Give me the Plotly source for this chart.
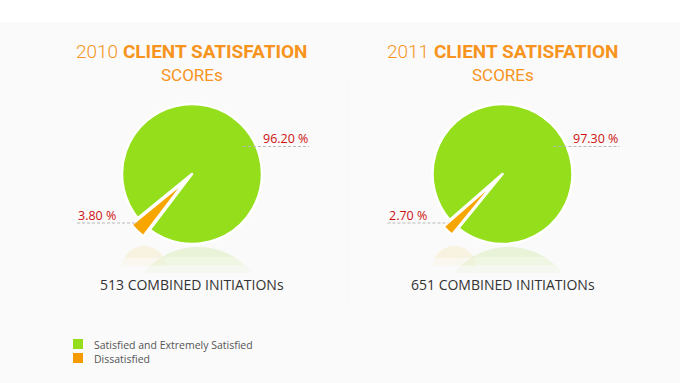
import math
import plotly.graph_objects as go

# ---- data ----
years = ["2010", "2011"]
labels = ["Satisfied and Extremely Satisfied", "Dissatisfied"]
satisfied = [96.2, 97.3]
dissatisfied = [3.8, 2.7]
initiations = [513, 651]

GREEN = "#95de1c"
ORANGE = "#f7a600"
LEG_ORANGE = "#f59a00"
TITLE_COLOR = "#f7941d"
LABEL_RED = "#cc1111"

W, H = 680, 383
centers_x = [192, 502.5]
center_y = 174
radius = 70
pull = 0.13
half = radius * (1 + pull)

fig = go.Figure()


def cap_path(cx, top, r, h):
    # circular cap of a mirrored circle (reflection), as polyline
    cyc = top + r
    pts = []
    a0 = math.acos((r - h) / r)
    n = 30
    for k in range(n + 1):
        a = -a0 + 2 * a0 * k / n
        x = cx + r * math.sin(a)
        y = cyc - r * math.cos(a)
        pts.append((x / W, 1 - y / H))
    d = "M " + " L ".join(f"{x:.5f},{y:.5f}" for x, y in pts) + " Z"
    return d


for i, yr in enumerate(years):
    cx = centers_x[i]
    cy_up = H - center_y
    rot = 224 + dissatisfied[i] * 3.6 / 2
    fig.add_trace(go.Pie(
        labels=labels,
        values=[satisfied[i], dissatisfied[i]],
        sort=False,
        direction="clockwise",
        rotation=rot,
        pull=[0, pull],
        textinfo="none",
        hoverinfo="label+percent",
        marker=dict(colors=[GREEN, ORANGE], line=dict(color="#ffffff", width=2.5)),
        domain=dict(x=[(cx - half) / W, (cx + half) / W],
                    y=[(cy_up - half) / H, (cy_up + half) / H]),
        showlegend=False,
    ))

    # faint reflection below the pie
    for h, op in [(26, 0.05), (18, 0.06), (10, 0.08)]:
        fig.add_shape(type="path", xref="paper", yref="paper",
                      path=cap_path(cx + 6, 247, radius, h),
                      fillcolor="#9fdc3a", opacity=op, line=dict(width=0), layer="below")
    for h, op in [(20, 0.06), (12, 0.08)]:
        fig.add_shape(type="path", xref="paper", yref="paper",
                      path=cap_path(cx - 48, 246, 22, h),
                      fillcolor="#f5c542", opacity=op, line=dict(width=0), layer="below")

    # titles
    fig.add_annotation(
        x=cx / W, y=1 - 51 / H, xref="paper", yref="paper",
        text=f"<span style='font-weight:300'>{yr}</span> <b>CLIENT SATISFATION</b>",
        showarrow=False, xanchor="center", yanchor="middle",
        font=dict(family="Roboto", size=19, color=TITLE_COLOR),
    )
    fig.add_annotation(
        x=cx / W, y=1 - 75 / H, xref="paper", yref="paper",
        text="SCOREs",
        showarrow=False, xanchor="center", yanchor="middle",
        font=dict(family="Roboto", size=17, color=TITLE_COLOR),
    )
    # combined initiations
    fig.add_annotation(
        x=cx / W, y=1 - 284 / H, xref="paper", yref="paper",
        text=f"{initiations[i]} COMBINED INITIATIONs",
        showarrow=False, xanchor="center", yanchor="middle",
        font=dict(family="Open Sans", size=14, color="#333333"),
    )
    # value labels with dashed leaders
    off = cx - centers_x[0]
    fig.add_annotation(
        x=(285 + off) / W, y=1 - 139 / H, xref="paper", yref="paper",
        text=f"{satisfied[i]:.2f} %", showarrow=False, xanchor="center", yanchor="middle",
        font=dict(family="Open Sans", size=12.5, color=LABEL_RED),
    )
    fig.add_shape(type="line", xref="paper", yref="paper",
                  x0=(243 + off) / W, x1=(309 + off) / W, y0=1 - 146.5 / H, y1=1 - 146.5 / H,
                  line=dict(color="#b8b8b8", width=1, dash="3px,2px"))
    fig.add_annotation(
        x=(97 + off) / W, y=1 - 215 / H, xref="paper", yref="paper",
        text=f"{dissatisfied[i]:.2f} %", showarrow=False, xanchor="center", yanchor="middle",
        font=dict(family="Open Sans", size=12.5, color=LABEL_RED),
    )
    fig.add_shape(type="line", xref="paper", yref="paper",
                  x0=(77 + off) / W, x1=(138 + off) / W, y0=1 - 223 / H, y1=1 - 223 / H,
                  line=dict(color="#b8b8b8", width=1, dash="3px,2px"))

# white top band
fig.add_shape(type="rect", xref="paper", yref="paper", x0=0, x1=1, y0=1 - 22 / H, y1=1,
              fillcolor="#ffffff", line=dict(width=0), layer="below")
# faint divider
fig.add_shape(type="line", xref="paper", yref="paper", x0=348 / W, x1=348 / W,
              y0=1 - 300 / H, y1=1 - 80 / H, line=dict(color="#f6f6f6", width=1), layer="below")

# custom legend
leg_colors = [GREEN, LEG_ORANGE]
for j, lab in enumerate(labels):
    yc = 344 + j * 14
    fig.add_shape(type="rect", xref="paper", yref="paper",
                  x0=73 / W, x1=83 / W, y0=1 - (yc + 5) / H, y1=1 - (yc - 5) / H,
                  fillcolor=leg_colors[j], line=dict(width=0))
    fig.add_annotation(x=92 / W, y=1 - (yc + 1) / H, xref="paper", yref="paper",
                       text=lab, showarrow=False, xanchor="left", yanchor="middle",
                       font=dict(family="Open Sans", size=10.5, color="#555555"))

fig.update_layout(
    width=W, height=H,
    margin=dict(l=0, r=0, t=0, b=0),
    paper_bgcolor="#fafafa",
    plot_bgcolor="#fafafa",
    showlegend=False,
)

fig.write_html("out.html", config={"displayModeBar": False},
               post_script="document.body.style.margin='0';document.body.style.overflow='hidden';")
